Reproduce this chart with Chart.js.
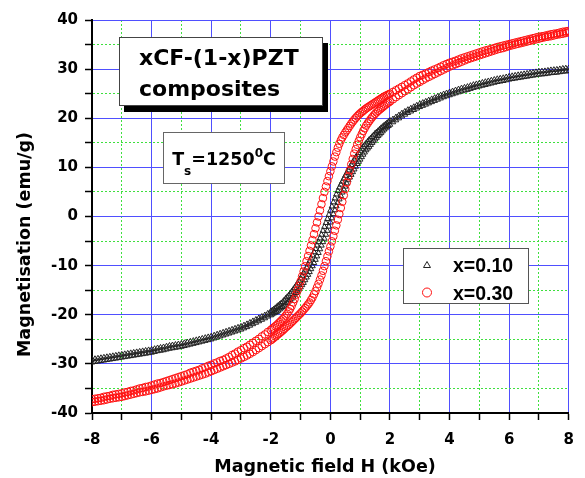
<!DOCTYPE html>
<html><head><meta charset="utf-8">
<script src="https://cdn.jsdelivr.net/npm/chart.js@4.4.1/dist/chart.umd.min.js"></script>
<style>html,body{margin:0;padding:0;background:#fff}canvas{display:block}</style>
</head><body>
<canvas id="c" width="585" height="478"></canvas>
<script>
// ---------- data ----------
const fieldH = [
 -8,-7.9,-7.8,-7.7,-7.6,-7.5,-7.4,-7.3,-7.2,-7.1,-7,-6.9,-6.8,-6.7,-6.6,-6.5,-6.4,-6.3,-6.2,-6.1,
 -6,-5.9,-5.8,-5.7,-5.6,-5.5,-5.4,-5.3,-5.2,-5.1,-5,-4.9,-4.8,-4.7,-4.6,-4.5,-4.4,-4.3,-4.2,-4.1,
 -4,-3.9,-3.8,-3.7,-3.6,-3.5,-3.4,-3.3,-3.2,-3.1,-3,-2.9,-2.8,-2.7,-2.6,-2.5,-2.4,-2.3,-2.2,-2.1,
 -2,-1.95,-1.9,-1.85,-1.8,-1.75,-1.7,-1.65,-1.6,-1.55,-1.5,-1.45,-1.4,-1.35,-1.3,-1.25,-1.2,-1.15,-1.1,-1.05,
 -1,-0.95,-0.9,-0.85,-0.8,-0.75,-0.7,-0.65,-0.6,-0.55,-0.5,-0.45,-0.4,-0.35,-0.3,-0.25,-0.2,-0.15,-0.1,-0.05,
 0,
 0.05,0.1,0.15,0.2,0.25,0.3,0.35,0.4,0.45,0.5,0.55,0.6,0.65,0.7,0.75,0.8,0.85,0.9,0.95,1,
 1.05,1.1,1.15,1.2,1.25,1.3,1.35,1.4,1.45,1.5,1.55,1.6,1.65,1.7,1.75,1.8,1.85,1.9,1.95,2,
 2.1,2.2,2.3,2.4,2.5,2.6,2.7,2.8,2.9,3,3.1,3.2,3.3,3.4,3.5,3.6,3.7,3.8,3.9,4,
 4.1,4.2,4.3,4.4,4.5,4.6,4.7,4.8,4.9,5,5.1,5.2,5.3,5.4,5.5,5.6,5.7,5.8,5.9,6,
 6.1,6.2,6.3,6.4,6.5,6.6,6.7,6.8,6.9,7,7.1,7.2,7.3,7.4,7.5,7.6,7.7,7.8,7.9,8];

// x = 0.10 : descending (upper) branch
const m10Down = [
 -29.1,-29.0,-28.9,-28.8,-28.7,-28.6,-28.5,-28.4,-28.3,-28.2,
 -28.1,-28.0,-27.9,-27.8,-27.7,-27.6,-27.5,-27.4,-27.3,-27.2,
 -27.1,-26.95,-26.8,-26.7,-26.6,-26.45,-26.3,-26.2,-26.1,-26.0,
 -25.9,-25.75,-25.6,-25.45,-25.3,-25.15,-25.0,-24.85,-24.7,-24.55,
 -24.4,-24.2,-24.0,-23.8,-23.6,-23.4,-23.2,-23.0,-22.8,-22.6,
 -22.4,-22.15,-21.9,-21.6,-21.3,-21.0,-20.7,-20.4,-20.1,-19.75,
 -19.3,-19.1,-18.9,-18.65,-18.4,-18.15,-17.9,-17.65,-17.4,-17.05,
 -16.7,-16.4,-16.1,-15.7,-15.3,-14.9,-14.5,-14.05,-13.6,-13.1,
 -12.6,-12.05,-11.5,-10.95,-10.4,-9.75,-9.1,-8.5,-7.9,-7.25,
 -6.6,-5.9,-5.2,-4.45,-3.7,-2.9,-2.1,-1.3,-0.5,0.35,
 1.2,
 2.05,2.9,3.7,4.5,5.2,5.9,6.5,7.1,7.7,8.3,
 8.85,9.4,9.95,10.5,11.05,11.6,12.05,12.5,12.95,13.4,
 13.8,14.2,14.55,14.9,15.25,15.6,15.9,16.2,16.55,16.9,
 17.15,17.4,17.7,18.0,18.25,18.5,18.75,19.0,19.25,19.5,
 19.8,20.2,20.6,21.0,21.35,21.7,22.0,22.3,22.6,22.9,
 23.15,23.4,23.65,23.9,24.15,24.4,24.65,24.9,25.1,25.3,
 25.5,25.7,25.9,26.1,26.25,26.4,26.6,26.8,26.95,27.1,
 27.25,27.4,27.55,27.7,27.85,28.0,28.1,28.2,28.35,28.5,
 28.6,28.7,28.8,28.9,29.0,29.1,29.2,29.3,29.4,29.5,
 29.55,29.6,29.7,29.8,29.85,29.9,30.0,30.1,30.15,30.2];

// x = 0.10 : ascending (lower) branch
const m10Up = [
 -29.7,-29.6,-29.5,-29.4,-29.3,-29.2,-29.1,-29.0,-28.9,-28.8,
 -28.7,-28.6,-28.5,-28.4,-28.3,-28.2,-28.1,-28.0,-27.9,-27.8,
 -27.7,-27.55,-27.4,-27.3,-27.2,-27.05,-26.9,-26.8,-26.7,-26.6,
 -26.5,-26.35,-26.2,-26.05,-25.9,-25.75,-25.6,-25.45,-25.3,-25.15,
 -25.0,-24.8,-24.6,-24.4,-24.2,-24.0,-23.8,-23.6,-23.4,-23.2,
 -23.0,-22.75,-22.5,-22.2,-21.9,-21.6,-21.3,-21.0,-20.7,-20.35,
 -20.1,-19.9,-19.7,-19.55,-19.4,-19.15,-18.9,-18.65,-18.4,-18.15,
 -17.9,-17.6,-17.3,-17.0,-16.7,-16.3,-15.9,-15.55,-15.2,-14.8,
 -14.4,-13.95,-13.5,-12.95,-12.4,-11.85,-11.3,-10.7,-10.1,-9.45,
 -8.8,-8.1,-7.4,-6.65,-5.9,-5.2,-4.5,-3.7,-2.9,-2.05,
 -1.2,
 -0.35,0.5,1.3,2.1,2.8,3.5,4.2,4.9,5.5,6.1,
 6.75,7.4,7.95,8.5,9.05,9.6,10.15,10.7,11.15,11.6,
 12.1,12.6,13.05,13.5,13.85,14.2,14.6,15.0,15.35,15.7,
 16.05,16.4,16.7,17.0,17.35,17.7,17.95,18.2,18.45,18.7,
 19.2,19.6,20.0,20.4,20.75,21.1,21.4,21.7,22.0,22.3,
 22.55,22.8,23.05,23.3,23.55,23.8,24.05,24.3,24.5,24.7,
 24.9,25.1,25.3,25.5,25.65,25.8,26.0,26.2,26.35,26.5,
 26.65,26.8,26.95,27.1,27.25,27.4,27.5,27.6,27.75,27.9,
 28.0,28.1,28.2,28.3,28.4,28.5,28.6,28.7,28.8,28.9,
 28.95,29.0,29.1,29.2,29.25,29.3,29.4,29.5,29.55,29.6];

// x = 0.30 : descending (upper) branch
const m30Down = [
 -37.2,-37.1,-37.0,-36.9,-36.7,-36.6,-36.5,-36.3,-36.2,-36.1,
 -36.0,-35.8,-35.7,-35.5,-35.4,-35.2,-35.0,-34.9,-34.7,-34.6,
 -34.4,-34.2,-34.0,-33.9,-33.7,-33.5,-33.3,-33.1,-32.9,-32.7,
 -32.5,-32.3,-32.1,-31.8,-31.6,-31.4,-31.2,-30.9,-30.7,-30.4,
 -30.2,-29.9,-29.7,-29.4,-29.2,-28.9,-28.6,-28.2,-27.9,-27.5,
 -27.2,-26.8,-26.5,-26.1,-25.7,-25.3,-24.9,-24.4,-24.0,-23.5,
 -23.1,-22.85,-22.6,-22.35,-22.1,-21.8,-21.5,-21.2,-20.9,-20.6,
 -20.2,-19.8,-19.3,-18.8,-18.2,-17.5,-16.8,-15.9,-15.0,-14.1,
 -13.2,-12.2,-11.2,-10.15,-9.1,-8.05,-7.0,-5.9,-4.8,-3.6,
 -2.4,-1.2,0.0,1.25,2.5,3.75,5.0,6.1,7.2,8.2,
 9.2,
 10.2,11.2,12.2,13.1,14.0,14.8,15.5,16.1,16.6,17.1,
 17.55,18.0,18.45,18.9,19.3,19.7,20.05,20.4,20.7,21.0,
 21.25,21.5,21.75,22.0,22.2,22.4,22.6,22.8,23.0,23.2,
 23.4,23.6,23.8,24.0,24.2,24.4,24.55,24.7,24.85,25.0,
 25.35,25.7,26.05,26.4,26.75,27.1,27.5,27.9,28.25,28.6,
 28.85,29.1,29.4,29.7,29.95,30.2,30.5,30.8,31.05,31.3,
 31.5,31.7,31.95,32.2,32.4,32.6,32.8,33.0,33.2,33.4,
 33.6,33.8,33.95,34.1,34.3,34.5,34.65,34.8,34.95,35.1,
 35.25,35.4,35.55,35.7,35.85,36.0,36.15,36.3,36.45,36.6,
 36.7,36.8,36.95,37.1,37.2,37.3,37.45,37.6,37.7,37.8];

// x = 0.30 : ascending (lower) branch
const m30Up = [
 -37.8,-37.7,-37.6,-37.5,-37.4,-37.25,-37.1,-37.0,-36.9,-36.8,
 -36.7,-36.55,-36.4,-36.25,-36.1,-35.95,-35.8,-35.7,-35.6,-35.45,
 -35.3,-35.15,-35.0,-34.8,-34.6,-34.45,-34.3,-34.15,-34.0,-33.8,
 -33.6,-33.4,-33.2,-33.0,-32.8,-32.6,-32.4,-32.2,-32.0,-31.75,
 -31.5,-31.25,-31.0,-30.75,-30.5,-30.25,-30.0,-29.75,-29.5,-29.2,
 -28.9,-28.6,-28.3,-27.95,-27.6,-27.2,-26.8,-26.4,-26.0,-25.6,
 -25.2,-24.95,-24.7,-24.45,-24.2,-23.95,-23.7,-23.45,-23.2,-22.9,
 -22.6,-22.35,-22.1,-21.8,-21.5,-21.2,-20.9,-20.6,-20.3,-20.0,
 -19.7,-19.35,-19.0,-18.65,-18.3,-17.9,-17.5,-17.0,-16.5,-15.85,
 -15.2,-14.45,-13.7,-12.85,-12.0,-11.05,-10.1,-9.1,-8.1,-7.1,
 -6.1,
 -5.05,-4.0,-2.9,-1.8,-0.65,0.5,1.75,3.0,4.3,5.6,
 6.9,8.2,9.4,10.6,11.7,12.8,13.7,14.6,15.35,16.1,
 16.75,17.4,17.95,18.5,18.95,19.4,19.8,20.2,20.55,20.9,
 21.2,21.5,21.75,22.0,22.25,22.5,22.75,23.0,23.2,23.4,
 23.85,24.3,24.7,25.1,25.5,25.9,26.3,26.7,27.05,27.4,
 27.75,28.1,28.4,28.7,29.0,29.3,29.6,29.9,30.2,30.5,
 30.75,31.0,31.25,31.5,31.75,32.0,32.2,32.4,32.6,32.8,
 33.0,33.2,33.4,33.6,33.8,34.0,34.15,34.3,34.5,34.7,
 34.85,35.0,35.15,35.3,35.45,35.6,35.75,35.9,36.05,36.2,
 36.35,36.5,36.6,36.7,36.85,37.0,37.1,37.2,37.35,37.5];

const seriesLabels = ['x=0.10', 'x=0.30'];
const xTickLabels = [-8, -6, -4, -2, 0, 2, 4, 6, 8];
const yTickLabels = [-40, -30, -20, -10, 0, 10, 20, 30, 40];
const xTitle = 'Magnetic field H (kOe)';
const yTitle = 'Magnetisation (emu/g)';
const boxLines = ['xCF-(1-x)PZT', 'composites'];
const tempParts = ['T', 's', '=1250', '0', 'C']; // T_s = 1250 ^0 C

// ---------- styling ----------
const BLUE = '#4f4fff', GREEN = '#3ee03e';
const FONT = '"DejaVu Sans", sans-serif';

function loop(down, up) {
  const pts = [];
  for (let i = fieldH.length - 1; i >= 0; i--) pts.push({x: fieldH[i], y: down[i]});
  for (let i = 0; i < fieldH.length; i++) pts.push({x: fieldH[i], y: up[i]});
  return pts;
}

const deco = {
  id: 'deco',
  afterDraw(chart) {
    const ctx = chart.ctx;
    ctx.save();
    ctx.fillStyle = '#000';
    // axis titles
    ctx.font = 'bold 17.5px ' + FONT;
    ctx.textAlign = 'center';
    ctx.textBaseline = 'alphabetic';
    ctx.fillText(xTitle, 325, 472);
    ctx.save();
    ctx.translate(30, 244.5);
    ctx.rotate(-Math.PI / 2);
    ctx.fillText(yTitle, 0, 0);
    ctx.restore();

    // composites box with shadow
    ctx.fillStyle = '#000';
    ctx.fillRect(124, 43, 204, 69);
    ctx.fillStyle = '#fff';
    ctx.fillRect(119, 37, 204, 69);
    ctx.strokeStyle = '#444'; ctx.lineWidth = 1;
    ctx.strokeRect(119.5, 37.5, 203, 68);
    ctx.fillStyle = '#000';
    ctx.font = 'bold 22px ' + FONT;
    ctx.textAlign = 'left';
    ctx.fillText(boxLines[0], 139, 65);
    ctx.fillText(boxLines[1], 139, 96);

    // temperature box
    ctx.fillStyle = '#fff';
    ctx.fillRect(163, 132, 122, 52);
    ctx.strokeStyle = '#666';
    ctx.strokeRect(163.5, 132.5, 121, 51);
    const big = 'bold 17.5px ' + FONT, small = 'bold 12px ' + FONT;
    const pieces = [
      {t: tempParts[0], f: big, dy: 0},
      {t: tempParts[1], f: small, dy: 10},
      {t: tempParts[2], f: big, dy: 0},
      {t: tempParts[3], f: small, dy: -8},
      {t: tempParts[4], f: big, dy: 0}
    ];
    let tw = 0;
    pieces.forEach(p => { ctx.font = p.f; p.w = ctx.measureText(p.t).width; tw += p.w; });
    let x = 224 - tw / 2;
    ctx.fillStyle = '#000';
    pieces.forEach(p => { ctx.font = p.f; ctx.fillText(p.t, x, 164.5 + p.dy); x += p.w; });

    // legend
    ctx.fillStyle = '#fff';
    ctx.fillRect(403, 248, 126, 56);
    ctx.strokeStyle = '#555';
    ctx.strokeRect(403.5, 248.5, 125, 55);
    const ds = chart.data.datasets;
    ctx.strokeStyle = ds[0].borderColor; ctx.lineWidth = 1;
    ctx.beginPath();
    ctx.moveTo(427, 261.5); ctx.lineTo(430.5, 267.5); ctx.lineTo(423.5, 267.5); ctx.closePath();
    ctx.stroke();
    ctx.strokeStyle = ds[1].borderColor;
    ctx.beginPath(); ctx.arc(427, 292.5, 4.5, 0, Math.PI * 2); ctx.stroke();
    ctx.fillStyle = '#000';
    ctx.font = 'bold 19.5px "Liberation Sans", Arial, sans-serif';
    ctx.textAlign = 'left';
    ctx.fillText(ds[0].label, 453, 272);
    ctx.fillText(ds[1].label, 453, 300);
    ctx.restore();
  }
};

new Chart(document.getElementById('c'), {
  type: 'scatter',
  data: {
    datasets: [
      {label: seriesLabels[0], data: loop(m10Down, m10Up), pointStyle: 'triangle', pointRadius: 3.2,
       borderColor: '#222', backgroundColor: 'rgba(0,0,0,0)', borderWidth: 1, order: 1, clip: 0},
      {label: seriesLabels[1], data: loop(m30Down, m30Up), pointStyle: 'circle', pointRadius: 3.8,
       borderColor: '#ff1010', backgroundColor: 'rgba(0,0,0,0)', borderWidth: 1, order: 0, clip: 0}
    ]
  },
  options: {
    responsive: false, devicePixelRatio: 1, animation: false,
    layout: {padding: {top: 20, right: 9, left: 0, bottom: 0}},
    plugins: {legend: {display: false}, tooltip: {enabled: false}},
    scales: {
      x: {
        type: 'linear', min: -8, max: 8,
        afterFit: s => { s.height = 65; },
        ticks: {stepSize: 1, autoSkip: false, padding: 11, color: '#000',
          font: {family: FONT, size: 15, weight: 'bold'},
          callback: v => xTickLabels.includes(v) ? String(v) : ''},
        grid: {color: c => (c.tick && xTickLabels.includes(c.tick.value)) ? BLUE : GREEN,
          lineWidth: 1, tickColor: '#000', tickLength: 7, tickWidth: 1.5},
        border: {display: true, color: '#000', width: 2,
          dash: c => (c.tick && !xTickLabels.includes(c.tick.value)) ? [2, 2] : []},
        title: {display: false}
      },
      y: {
        type: 'linear', min: -40, max: 40,
        afterFit: s => { s.width = 92; },
        ticks: {stepSize: 5, autoSkip: false, padding: 7, color: '#000',
          font: {family: FONT, size: 15, weight: 'bold'},
          callback: v => yTickLabels.includes(v) ? String(v) : ''},
        grid: {color: c => (c.tick && yTickLabels.includes(c.tick.value)) ? BLUE : GREEN,
          lineWidth: 1, tickColor: '#000', tickLength: 7, tickWidth: 1.5},
        border: {display: true, color: '#000', width: 2,
          dash: c => (c.tick && !yTickLabels.includes(c.tick.value)) ? [2, 2] : []},
        title: {display: false}
      }
    }
  },
  plugins: [deco]
});
</script>
</body></html>
